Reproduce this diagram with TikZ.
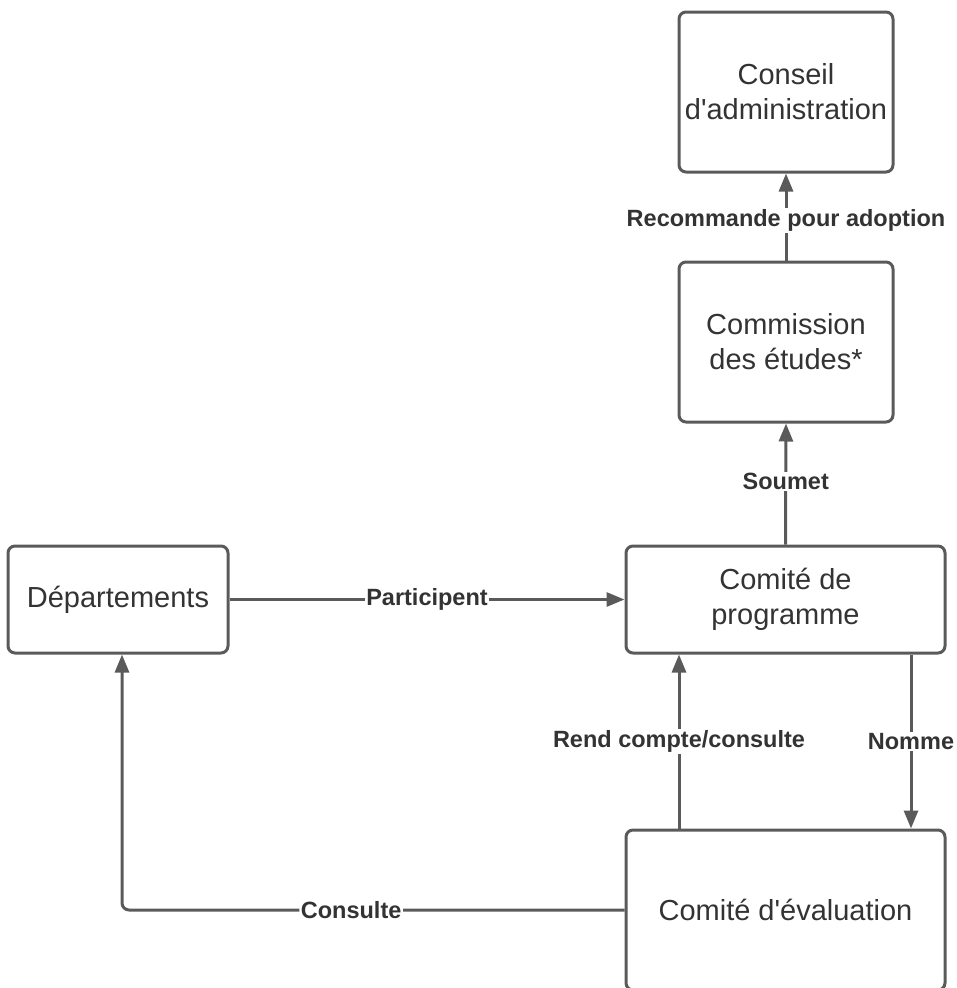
\documentclass[tikz,border=0pt]{standalone}
\usepackage{fontspec}
\setmainfont{Liberation Sans}
\usetikzlibrary{arrows.meta,calc}
\definecolor{edge}{HTML}{5A5A5A}
\definecolor{txt}{HTML}{333333}
\begin{document}
\begin{tikzpicture}[x=1pt,y=-1pt,
  box/.style={draw=edge,line width=3pt,rounded corners=7pt,rectangle,align=center,
    text=txt,font=\fontsize{29}{35}\selectfont,inner sep=0pt},
  arr/.style={draw=edge,line width=3pt,-{Triangle[width=14pt,length=18pt]}},
  lbl/.style={fill=white,text=txt,font=\bfseries\fontsize{23.5}{27}\selectfont,inner sep=1.5pt}]
\useasboundingbox (0,0) rectangle (956,988);
\node[box,minimum width=214pt,minimum height=160pt] (conseil) at (786,92) {Conseil\\d\textquotesingle administration};
\node[box,minimum width=214pt,minimum height=160pt] (commission) at (786,342) {Commission\\des études*};
\node[box,minimum width=319pt,minimum height=107pt] (prog) at (785.5,599.5) {Comité de\\programme};
\node[box,minimum width=220pt,minimum height=107pt] (dep) at (118,599.5) {Départements};
\node[box,minimum width=319pt,minimum height=160pt] (eval) at (785.5,910) {Comité d\textquotesingle évaluation};
\coordinate (xrc) at (679,0);
\coordinate (xnm) at (911,0);
\coordinate (xdp) at (122,0);
\draw[arr] (commission.north) -- node[lbl,pos=0.46]{Recommande pour adoption} (conseil.south);
\draw[arr] (prog.north) -- node[lbl,pos=0.52]{Soumet} (commission.south);
\draw[arr] (dep.east) -- node[lbl,pos=0.5]{Participent} (prog.west);
\draw[arr] (eval.north -| xrc) -- node[lbl,pos=0.5]{Rend compte/consulte} (prog.south -| xrc);
\draw[arr] (prog.south -| xnm) -- node[lbl,pos=0.5]{Nomme} (eval.north -| xnm);
\draw[arr,rounded corners=7pt] (eval.west) -- node[lbl,pos=0.544]{Consulte} (eval.west -| xdp) -- (dep.south -| xdp);
\end{tikzpicture}
\end{document}
